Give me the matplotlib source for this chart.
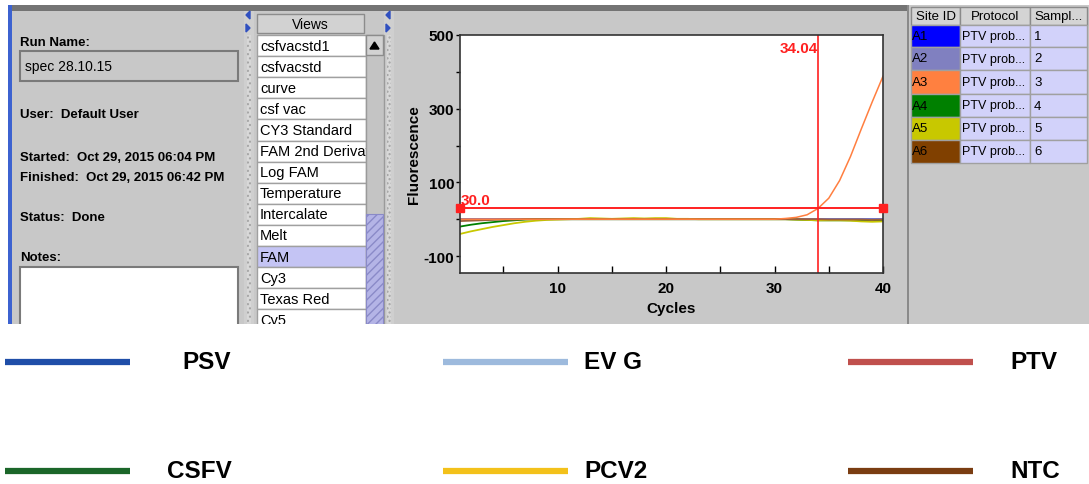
import matplotlib
matplotlib.use('Agg')
import matplotlib.pyplot as plt
from matplotlib.patches import Rectangle, Polygon
import numpy as np

plt.rcParams['axes.unicode_minus'] = False

UI_FONT = ['Liberation Sans Narrow', 'Liberation Sans', 'DejaVu Sans']
LEG_FONT = ['Liberation Sans', 'DejaVu Sans']

# ---- data ----
cycles = list(range(1, 41))

a1_blue = [0, 0, 0, 0, 0, 0, 0, 0, 0, 0, 0, 0, 0, 0, 0, 0, 0, 0, 0, 0,
           0, 0, 0, 0, 0, 0, 0, 0, 0, 0, 0, 0, 0, 0, 0, 0, 0, 0, 0, 0]
a2_lavender = [0, 0, 0, 0, 0, 0, 0, 0, 0, 0, 0, 0, 0, 0, 0, 0, 0, 0, 0, 0,
               0, 0, 0, 0, 0, 0, 0, 0, 0, 0, 0, 0, 0, 0, 0, 0, 0, 0, 0, 0]
a3_orange = [0, 0, 0, 0, 0, 0, 0, 0, 0, 0, 0, 0, 0, 0, 0, 0, 0, 0, 0, 0,
             0, 0, 0, 0, 0, 0, 0, 0, 0, 0, 2, 5, 12, 29, 57, 105, 170, 245, 318, 388]
a4_green = [-20, -15, -11, -8, -5, -3, -1, 0, 0, 0, 0, 0, 0, 0, 0, 0, 0, 0, 0, 0,
            0, 0, 0, 0, 0, 0, 0, 0, 0, 0, 0, -1, -2, -3, -3, -3, -3, -4, -5, -3]
a5_yellow = [-40, -33, -27, -21, -16, -11, -7, -4, -2, -1, 0, 1, 3, 2, 1, 2, 3, 2, 3, 3,
             1, 1, 0, 0, 0, 0, 0, 0, 0, 0, 0, -1, -2, -3, -3, -3, -4, -6, -7, -6]
a6_brown = [-5, -4, -3, -2, -1, -1, 0, 0, 0, 0, 0, 0, 0, 0, 0, 0, 0, 0, 0, 0,
            0, 0, 0, 0, 0, 0, 0, 0, 0, 0, 0, 0, 0, 0, -1, -1, -1, -1, -2, -1]

threshold = 30.0
ct_value = 34.04

site_ids = ['A1', 'A2', 'A3', 'A4', 'A5', 'A6']
site_colors = ['#0000ff', '#8080c0', '#ff8040', '#008000', '#c8c800', '#804000']
protocols = ['PTV prob...'] * 6
samples = ['1', '2', '3', '4', '5', '6']

views = ['csfvacstd1', 'csfvacstd', 'curve', 'csf vac', 'CY3 Standard',
         'FAM 2nd Derivativ', 'Log FAM', 'Temperature', 'Intercalate', 'Melt',
         'FAM', 'Cy3', 'Texas Red', 'Cy5']
selected_view = 'FAM'

legend_names = ['PSV', 'EV G', 'PTV', 'CSFV', 'PCV2', 'NTC']
legend_colors = ['#1f4ea8', '#9dbadd', '#c0504d', '#1b6629', '#f3c11a', '#7a3d12']

run_info = [('Run Name:', 43), ('User:  Default User', 115),
            ('Started:  Oct 29, 2015 06:04 PM', 158),
            ('Finished:  Oct 29, 2015 06:42 PM', 178),
            ('Status:  Done', 218), ('Notes:', 258)]

W, H = 1089, 485
fig = plt.figure(figsize=(W / 100, H / 100), dpi=100)
fig.patch.set_facecolor('white')

ui = fig.add_axes([0, 0, 1, 1])
ui.set_xlim(0, W)
ui.set_ylim(H, 0)
ui.axis('off')

GRAY = '#c8c8c8'


def box(x0, y0, x1, y1, fc, ec='none', lw=1.0, **kw):
    ui.add_patch(Rectangle((x0, y0), x1 - x0, y1 - y0, facecolor=fc,
                           edgecolor=ec, lw=lw, **kw))


# panels
box(8, 6, 907, 325, GRAY)
box(8, 6, 907, 12, '#747474')
box(8, 6, 12, 325, '#3c62d0')
box(907, 6, 909, 325, '#8a8a8a')
box(909, 6, W, 325, GRAY)

# splitters
for sx in (244, 384):
    box(sx, 12, sx + 10, 325, '#cfcfcf')
    box(sx + 3, 36, sx + 7, 325, '#d8d8d8', ec='#a4a4a4', lw=0, hatch='....')
    ui.add_patch(Polygon([[sx + 6, 12], [sx + 6, 20], [sx + 2, 16]], color='#3050c0'))
    ui.add_patch(Polygon([[sx + 2, 25], [sx + 2, 33], [sx + 6, 29]], color='#3050c0'))

# left info panel
for txt, yy in run_info:
    ui.text(20, yy, txt, family=UI_FONT, weight='bold', fontsize=9.5,
            va='center', ha='left')
box(20, 52, 238, 82, GRAY, ec='#7a7a7a', lw=1.5)
ui.text(25, 67, 'spec 28.10.15', family=UI_FONT, fontsize=10, va='center')
box(20, 268, 238, 340, 'white', ec='#7a7a7a', lw=1.5)

# views list
box(257, 15, 364, 34, '#d2d2d2', ec='#8c8c8c', lw=1)
ui.text(310, 25, 'Views', family=UI_FONT, fontsize=10, ha='center', va='center')
row_h = 21.1
for i, name in enumerate(views):
    y0 = 36 + i * row_h
    fc = '#c4c4f4' if name == selected_view else 'white'
    box(257, y0, 366, y0 + row_h, fc, ec='#a0a0a0', lw=1)
    ui.text(260, y0 + row_h / 2, name, family=UI_FONT, fontsize=10.5, va='center')

# scrollbar (drawn above the list text so long names are cut)
box(366, 36, 384, 325, '#c4c4c4', ec='#9a9a9a', lw=1, zorder=4)
box(366, 36, 383, 56, '#d2d2d2', ec='#8c8c8c', lw=1, zorder=4)
ui.add_patch(Polygon([[370, 50], [379, 50], [374.5, 43]], color='black', zorder=4))
box(366, 215, 383, 330, '#b4b4e6', ec='#8a8ac8', lw=0.8, hatch='////', zorder=4)

# site table
cols = [(911, 960, 'Site ID'), (960, 1030, 'Protocol'), (1030, 1087, 'Sampl...')]
for x0, x1, lbl in cols:
    box(x0, 8, x1, 26, '#d4d4d4', ec='#8a8a8a', lw=1)
    ui.text((x0 + x1) / 2, 17, lbl, family=UI_FONT, fontsize=9.5,
            ha='center', va='center')
row_edges = [26, 48, 71, 95, 118, 141, 164]
for i in range(len(site_ids)):
    y0, y1 = row_edges[i], row_edges[i + 1]
    box(911, y0, 960, y1, site_colors[i], ec='#a0a0a0', lw=1)
    box(960, y0, 1030, y1, '#d2d2fa', ec='#a0a0a0', lw=1)
    box(1030, y0, 1087, y1, '#d2d2fa', ec='#a0a0a0', lw=1)
    yc = (y0 + y1) / 2
    ui.text(912, yc, site_ids[i], family=UI_FONT, fontsize=9.5, va='center')
    ui.text(962, yc, protocols[i], family=UI_FONT, fontsize=9, va='center')
    ui.text(1034, yc, samples[i], family=UI_FONT, fontsize=9.5, va='center')

# white lower area + legend
box(0, 325, W, H, 'white', zorder=5)
leg_pos = [(5, 130, 182, 363), (443, 568, 584, 363), (848, 973, 1010, 363),
           (5, 130, 167, 472), (443, 568, 584, 472), (848, 973, 1010, 472)]
for (x0, x1, tx, yy), name, col in zip(leg_pos, legend_names, legend_colors):
    ui.plot([x0, x1], [yy, yy], color=col, lw=4.5, solid_capstyle='butt', zorder=6)
    ui.text(tx, yy, name, family=LEG_FONT, weight='bold', fontsize=17.5,
            va='center', ha='left', zorder=6)

# ---- amplification plot ----
L, R, T, B = 460, 883, 36, 274
ax = fig.add_axes([L / W, 1 - B / H, (R - L) / W, (B - T) / H])
ax.set_facecolor('white')

ax.plot(cycles, a1_blue, color='#0000ff', lw=1.3)
ax.plot(cycles, a2_lavender, color='#8080c0', lw=1.3)
ax.plot(cycles, a4_green, color='#008000', lw=1.3)
ax.plot(cycles, a5_yellow, color='#c8c800', lw=1.3)
ax.plot(cycles, a6_brown, color='#a0603a', lw=1.3)
ax.plot(cycles, a3_orange, color='#ff7f40', lw=1.1)

ax.plot([1, 40], [threshold, threshold], color='#ff2020', lw=1.4, marker='s',
        ms=6, clip_on=False, zorder=5)
ax.axvline(ct_value, color='#ff2020', lw=1.2)
ax.text(ct_value - 0.05, 485, '%.2f' % ct_value, color='#ff2020', ha='right',
        va='top', family=UI_FONT, weight='bold', fontsize=11)
ax.text(1.1, threshold + 4, '%.1f' % threshold, color='#ff2020', ha='left',
        va='bottom', family=UI_FONT, weight='bold', fontsize=11)

ax.set_xlim(1, 40)
ax.set_ylim(-146, 500)
ax.set_xticks([10, 20, 30, 40])
ax.set_xticks([5, 15, 25, 35], minor=True)
ax.set_yticks([-100, 100, 300, 500])
ax.set_yticks([0, 200, 400], minor=True)
ax.tick_params(axis='x', which='both', direction='in', length=5, width=1, pad=6)
ax.tick_params(axis='y', which='both', direction='out', length=3, width=1, pad=1)
for lab in ax.get_xticklabels() + ax.get_yticklabels():
    lab.set_family(UI_FONT)
    lab.set_fontweight('bold')
    lab.set_fontsize(11)
for sp in ax.spines.values():
    sp.set_color('#333333')
    sp.set_linewidth(1.2)
ax.set_xlabel('Cycles', family=UI_FONT, weight='bold', fontsize=11, labelpad=4)
ax.set_ylabel('Fluorescence', family=UI_FONT, weight='bold', fontsize=11, labelpad=2)

fig.savefig('out.png', dpi=100, facecolor='white')
